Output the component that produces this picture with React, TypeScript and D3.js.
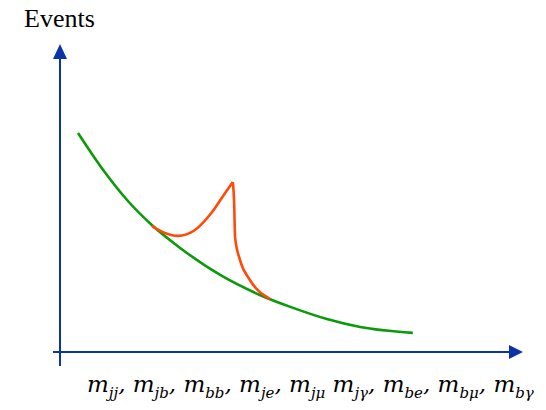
import React from "react";
import * as d3 from "d3";

// Falling background spectrum (arbitrary units)
const bgMass = [4.0, 9.6, 14.9, 20.4, 26.7, 35.6, 44.4, 51.8, 59.3, 66.7, 78.4];
const bgEvents = [74.5, 61.9, 51.7, 43.2, 35.4, 26.2, 19.4, 15.0, 11.2, 8.5, 6.5];

// Signal bump on top of the background: rising edge up to the peak, then sharp fall
const riseMass = [20.4, 23.3, 26.2, 30.0, 33.8, 36.7, 38.4];
const riseEvents = [42.9, 40.5, 39.5, 41.5, 47.6, 54.1, 57.8];
const fallMass = [38.4, 38.7, 38.9, 40.0, 42.2, 46.7];
const fallEvents = [57.8, 50.7, 39.1, 31.3, 24.5, 18.0];

const subs = ["jj", "jb", "bb", "je", "jμ", "jγ", "be", "bμ", "bγ"];
const seps = [", ", ", ", ", ", ", ", " ", ", ", ", ", ", ", ""];

const W = 546;
const H = 410;
const axisColor = "#0a34a8";

export default function App() {
  const x = d3.scaleLinear().domain([0, 100]).range([60, 510]);
  const y = d3.scaleLinear().domain([0, 100]).range([352, 58]);

  const line = d3
    .line<[number, number]>()
    .x((d) => x(d[0]))
    .y((d) => y(d[1]))
    .curve(d3.curveMonotoneX);

  const zip = (a: number[], b: number[]) =>
    a.map((v, i) => [v, b[i]] as [number, number]);

  const x0 = x(0);
  const y0 = y(0);

  return (
    <svg
      width={W}
      height={H}
      style={{ position: "absolute", left: 0, top: 0 }}
    >
      <rect width={W} height={H} fill="#fff" />
      {/* axes */}
      <line x1={x0} x2={x0} y1={366} y2={56} stroke={axisColor} strokeWidth={2} />
      <path
        d={`M${x0},${44} L${x0 - 7},${59} L${x0 + 7},${59} Z`}
        fill={axisColor}
      />
      <line x1={53} x2={512} y1={y0} y2={y0} stroke={axisColor} strokeWidth={2} />
      <path
        d={`M${523},${y0} L${509},${y0 - 7} L${509},${y0 + 7} Z`}
        fill={axisColor}
      />
      {/* background */}
      <path
        d={line(zip(bgMass, bgEvents)) || ""}
        fill="none"
        stroke="#0a9a0a"
        strokeWidth={2.6}
      />
      {/* signal */}
      <path
        d={line(zip(riseMass, riseEvents)) || ""}
        fill="none"
        stroke="#ff4a0a"
        strokeWidth={2.6}
      />
      <path
        d={line(zip(fallMass, fallEvents)) || ""}
        fill="none"
        stroke="#ff4a0a"
        strokeWidth={2.6}
      />
      <text
        x={24}
        y={27}
        fontFamily="'Liberation Serif', serif"
        fontSize={26}
        fill="#000"
      >
        Events
      </text>
      <text
        x={87}
        y={392}
        fontFamily="'DejaVu Serif', serif"
        fontStyle="italic"
        fontSize={23}
        fill="#000"
      >
        {subs.map((s, i) => (
          <React.Fragment key={i}>
            <tspan>m</tspan>
            <tspan fontSize={15} dy={6}>
              {s}
            </tspan>
            <tspan dy={-6}>{seps[i]}</tspan>
          </React.Fragment>
        ))}
      </text>
    </svg>
  );
}
